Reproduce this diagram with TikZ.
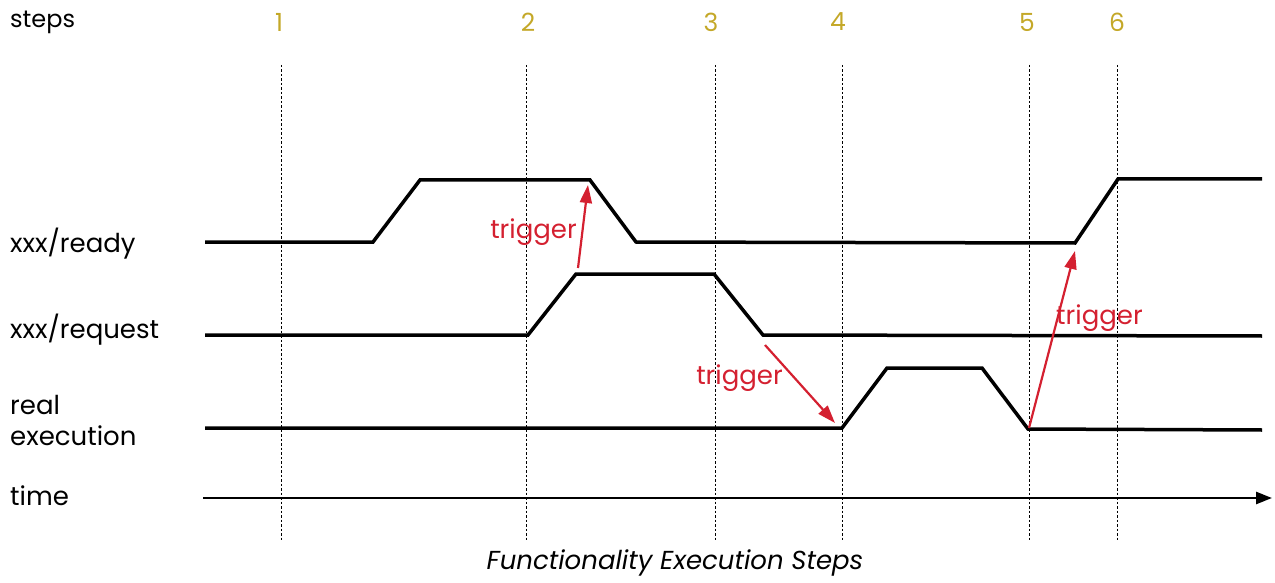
\documentclass[tikz,border=0pt]{standalone}
\usepackage{fontspec}
\setmainfont{Poppins}
\usetikzlibrary{arrows.meta}
\definecolor{gold}{RGB}{196,168,40}
\definecolor{trig}{RGB}{212,32,48}
\tikzset{
  sig/.style={line width=3.5pt, line join=miter, black},
  guide/.style={line width=0.9pt, dash pattern=on 2.5pt off 2pt, black},
  lbl/.style={anchor=west, inner sep=0pt, font=\fontsize{26}{31}\selectfont},
  stepnum/.style={inner sep=0pt, text=gold, font=\fontsize{25}{30}\selectfont},
  trg/.style={line width=2.2pt, trig, -{Triangle[length=18pt,width=12pt]}},
  trglbl/.style={inner sep=0pt, text=trig, font=\fontsize{26}{31}\selectfont},
}
\begin{document}
\begin{tikzpicture}[x=1pt,y=-1pt]
\useasboundingbox (0,0) rectangle (1275,583);
% step guides
\foreach \n/\x/\lx in {1/281/279,2/526/528,3/715/711,4/842/838,5/1029/1027,6/1117/1117}{
  \node[stepnum] (s\n) at (\lx,22) {\n};
  \draw[guide] (\x,65) -- (\x,540);
}
\node[lbl, font=\fontsize{24}{29}\selectfont] (lsteps) at (10,22) {steps};
\node[lbl] (lready) at (10,244) {xxx/ready};
\node[lbl] (lreq) at (10,330) {xxx/request};
\node[lbl, align=left] (lreal) at (10,420) {real\\execution};
\node[lbl] (ltime) at (10,496) {time};
% signals
\draw[sig] (205,242) -- (373,242) -- (420,180) -- (590,180) -- (636,242) -- (1075,243) -- (1118,179) -- (1262,179);
\draw[sig] (205,335) -- (528,335) -- (576,274) -- (714,274) -- (763,335) -- (1262,336);
\draw[sig] (205,428) -- (842,428) -- (887,368) -- (982,368) -- (1028,429) -- (1262,430);
\draw[line width=2.6pt, -{Triangle[length=16pt,width=12pt]}] (203,498) coordinate (t0) -- (1272,498) coordinate (t1);
% triggers
\coordinate (a1s) at (578,268); \coordinate (a1e) at (588,185);
\coordinate (a2s) at (765,345); \coordinate (a2e) at (835,423);
\coordinate (a3s) at (1029,428); \coordinate (a3e) at (1075,251);
\draw[trg] (a1s) -- (a1e);
\draw[trg] (a2s) -- (a2e);
\draw[trg] (a3s) -- (a3e);
\node[trglbl, anchor=east] (t1l) at (577,232) {trigger};
\node[trglbl, anchor=east] (t2l) at (783,378) {trigger};
\node[trglbl, anchor=west] (t3l) at (1056,318) {trigger};
% caption
\node[inner sep=0pt, font=\fontsize{26}{31}\selectfont\itshape] (cap) at (675,563) {Functionality Execution Steps};
\end{tikzpicture}
\end{document}
